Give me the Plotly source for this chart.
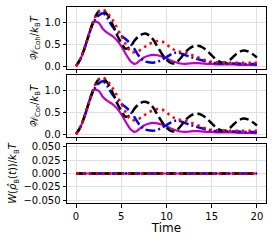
import plotly.graph_objects as go
from plotly.subplots import make_subplots

time = [i * 0.5 for i in range(41)]

black = [0, 0.17, 0.45, 0.78, 1.08, 1.26, 1.28, 1.18, 0.98, 0.73, 0.54, 0.40, 0.45, 0.60, 0.70,
         0.75, 0.72, 0.62, 0.45, 0.28, 0.15, 0.07, 0.07, 0.17, 0.30, 0.40, 0.46, 0.47, 0.43, 0.35,
         0.25, 0.15, 0.09, 0.08, 0.14, 0.24, 0.32, 0.36, 0.34, 0.28, 0.20]
red = [0, 0.17, 0.45, 0.78, 1.08, 1.27, 1.30, 1.22, 1.08, 0.90, 0.70, 0.50, 0.34, 0.32, 0.36,
       0.43, 0.50, 0.55, 0.58, 0.57, 0.50, 0.42, 0.36, 0.33, 0.31, 0.28, 0.24, 0.20, 0.16, 0.12,
       0.10, 0.09, 0.08, 0.08, 0.08, 0.08, 0.08, 0.08, 0.08, 0.08, 0.08]
blue = [0, 0.17, 0.45, 0.78, 1.04, 1.17, 1.22, 1.10, 0.92, 0.80, 0.70, 0.62, 0.52, 0.38, 0.22,
        0.12, 0.09, 0.08, 0.10, 0.15, 0.21, 0.27, 0.31, 0.30, 0.26, 0.22, 0.19, 0.16, 0.13, 0.10,
        0.08, 0.07, 0.06, 0.06, 0.06, 0.06, 0.06, 0.05, 0.05, 0.05, 0.05]
magenta = [0, 0.17, 0.45, 0.78, 1.02, 1.00, 0.85, 0.76, 0.70, 0.60, 0.46, 0.28, 0.12, 0.05, 0.12,
           0.20, 0.24, 0.26, 0.25, 0.22, 0.18, 0.13, 0.09, 0.06, 0.05, 0.06, 0.07, 0.07, 0.06, 0.05,
           0.05, 0.04, 0.04, 0.04, 0.04, 0.04, 0.03, 0.03, 0.03, 0.03, 0.02]
zero = [0.0] * len(time)

panels = [
    [magenta, blue, black, red],
    [magenta, blue, black, red],
    [zero, zero, zero, zero],
]
styles = [
    dict(color="#bf00bf", width=2.2, dash="solid"),
    dict(color="#0000ff", width=2.5, dash="10px,3px,2px,3px"),
    dict(color="#000000", width=2.5, dash="9px,4px"),
    dict(color="#ff0000", width=2.5, dash="2.5px,4px"),
]

fig = make_subplots(rows=3, cols=1, shared_xaxes=False, vertical_spacing=0.03)
for r, series in enumerate(panels, start=1):
    for s, st in zip(series, styles):
        fig.add_trace(go.Scatter(x=time, y=s, mode="lines", line=dict(shape="spline", **st),
                                 showlegend=False), row=r, col=1)

doms = [[0.684, 1.0], [0.337, 0.653], [0.0, 0.301]]
ylabels = [
    "𝒲<sub>Coh</sub>/<i>k</i><sub>B</sub><i>T</i>",
    "𝒲<sub>Cor</sub>/<i>k</i><sub>B</sub><i>T</i>",
    "<i>W</i>(<i>ρ̂</i><sub>B</sub>(<i>t</i>))/<i>k</i><sub>B</sub><i>T</i>",
]
axcommon = dict(showline=True, linecolor="black", linewidth=1, mirror=True, ticks="outside",
                ticklen=3.5, tickcolor="black", showgrid=True, gridcolor="#e0e0e0", gridwidth=1,
                zeroline=False, tickfont=dict(size=10, color="black"))
for i in range(3):
    fig.update_yaxes(row=i + 1, col=1, domain=doms[i], automargin=False, **axcommon,
                     title=dict(text=ylabels[i], font=dict(size=10, color="black"), standoff=4))
    fig.update_xaxes(row=i + 1, col=1, range=[-1, 21], tickvals=[0, 5, 10, 15, 20], automargin=False,
                     showticklabels=(i == 2), **axcommon)
fig.update_yaxes(row=1, col=1, range=[-0.065, 1.365], tickvals=[0, 0.5, 1.0], ticktext=["0.0", "0.5", "1.0"])
fig.update_yaxes(row=2, col=1, range=[-0.065, 1.365], tickvals=[0, 0.5, 1.0], ticktext=["0.0", "0.5", "1.0"])
fig.update_yaxes(row=3, col=1, range=[-0.055, 0.055], tickvals=[-0.05, -0.025, 0, 0.025, 0.05],
                 ticktext=["−0.050", "−0.025", "0.000", "0.025", "0.050"])
fig.update_xaxes(row=3, col=1, title=dict(text="Time", font=dict(size=12, color="black"), standoff=2))

fig.update_layout(width=274, height=245, margin=dict(l=67, r=8, t=7, b=42),
                  plot_bgcolor="white", paper_bgcolor="white",
                  font=dict(family="DejaVu Sans", color="black"))
fig.write_html("out.html", config={"displayModeBar": False},
               post_script="document.body.style.margin='0';")
